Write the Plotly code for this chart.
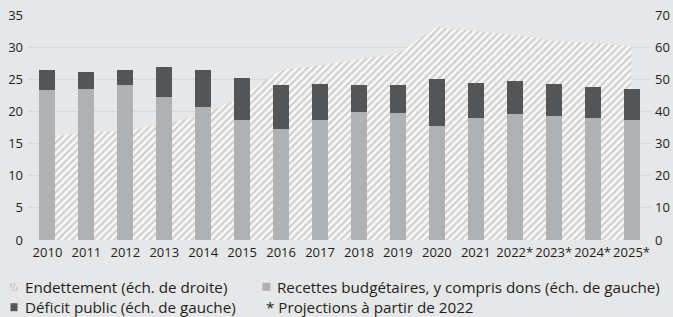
import plotly.graph_objects as go

years = ["2010", "2011", "2012", "2013", "2014", "2015", "2016", "2017",
         "2018", "2019", "2020", "2021", "2022", "2023", "2024", "2025"]
tick_labels = ["2010", "2011", "2012", "2013", "2014", "2015", "2016", "2017",
               "2018", "2019", "2020", "2021", "2022*", "2023*", "2024*", "2025*"]
recettes = [23.3, 23.5, 24.1, 22.2, 20.7, 18.7, 17.3, 18.7,
            19.9, 19.8, 17.7, 19.0, 19.6, 19.3, 19.0, 18.7]
deficit = [3.1, 2.6, 2.3, 4.7, 5.7, 6.5, 6.8, 5.6,
           4.2, 4.3, 7.3, 5.4, 5.1, 5.0, 4.8, 4.8]
endettement = [32.0, 33.6, 34.0, 36.0, 38.9, 44.6, 52.9, 54.4,
               56.2, 58.0, 66.2, 65.1, 63.8, 62.0, 61.4, 60.3]

FONT = "Open Sans"
TXT = "#231f20"
BG = "#e6e7e8"
TICK = 13
LEG = 15.2

fig = go.Figure()

fig.add_trace(go.Scatter(
    x=years, y=endettement, yaxis="y", mode="lines",
    line=dict(width=0, color="#c8c8c8"), fill="tozeroy",
    fillcolor="#f5f5f5",
    fillpattern=dict(shape="/", fgcolor="#a6a6a6", bgcolor="#f7f7f7",
                     size=5, solidity=0.42),
    name="Endettement (éch. de droite)", showlegend=False, hoverinfo="skip"))

fig.add_trace(go.Bar(
    x=years, y=recettes, yaxis="y2", marker=dict(color="#b0b1b3", line_width=0),
    width=0.41, name="Recettes budgétaires, y compris dons (éch. de gauche)",
    showlegend=False))
fig.add_trace(go.Bar(
    x=years, y=deficit, yaxis="y2", marker=dict(color="#545557", line_width=0),
    width=0.41, name="Déficit public (éch. de gauche)", showlegend=False))

# plot-area geometry in pixels (for legend placement)
L, R, T, B = 28, 22, 15, 77
W, H = 673 - L - R, 317 - T - B


def px(x):
    return (x - L) / W


def py(y):
    return (317 - B - y) / H


ROW1, ROW2 = 286.8, 307.2

shapes = []
annotations = []

# legend icons
shapes.append(dict(type="rect", xref="paper", yref="paper",
                   x0=px(10), x1=px(17.5), y0=py(ROW1 + 4), y1=py(ROW1 - 3.5),
                   fillcolor="#c9c9c9", line_width=0))
for a in (0, 3.5):
    shapes.append(dict(type="line", xref="paper", yref="paper",
                       x0=px(10.5 + a), y0=py(ROW1 + 3.5),
                       x1=px(13.5 + a), y1=py(ROW1 - 3),
                       line=dict(color="#f5f5f5", width=1.3)))
shapes.append(dict(type="rect", xref="paper", yref="paper",
                   x0=px(262.5), x1=px(270.5), y0=py(ROW1 + 4), y1=py(ROW1 - 4),
                   fillcolor="#b0b1b3", line_width=0))
shapes.append(dict(type="rect", xref="paper", yref="paper",
                   x0=px(10.5), x1=px(17.5), y0=py(ROW2 + 4), y1=py(ROW2 - 4),
                   fillcolor="#545557", line_width=0))

legend_texts = [
    ("Endettement (éch. de droite)", 22.5, ROW1),
    ("Recettes budgétaires, y compris dons (éch. de gauche)", 274.5, ROW1),
    ("Déficit public (éch. de gauche)", 22.5, ROW2),
    ("* Projections à partir de 2022", 263.5, ROW2),
]
for t, x, y in legend_texts:
    annotations.append(dict(text=t, xref="paper", yref="paper", x=px(x), y=py(y),
                            xanchor="left", yanchor="middle", showarrow=False,
                            font=dict(family=FONT, size=LEG, color=TXT)))

fig.update_layout(
    width=673, height=317,
    margin=dict(l=L, r=R, t=T, b=B, pad=0, autoexpand=False),
    paper_bgcolor=BG, plot_bgcolor=BG,
    barmode="stack", bargap=0.59,
    showlegend=False,
    font=dict(family=FONT, size=TICK, color=TXT),
    xaxis=dict(type="category", tickvals=years, ticktext=tick_labels,
               range=[-0.5, 15.5], showgrid=False, zeroline=False,
               showline=False, ticks="", tickangle=0, automargin=False,
               ticklabelstandoff=3, tickfont=dict(size=TICK)),
    yaxis=dict(side="right", range=[0, 70], dtick=10, showgrid=True,
               gridcolor="#d8d9da", gridwidth=1, zeroline=False,
               showline=False, ticks="", automargin=False,
               ticklabelstandoff=3, tickfont=dict(size=TICK)),
    yaxis2=dict(side="left", overlaying="y", range=[0, 35], dtick=5,
                showgrid=False, zeroline=False, showline=False, ticks="",
                automargin=False, ticklabelstandoff=4,
                tickfont=dict(size=TICK)),
    shapes=shapes, annotations=annotations,
)

fig.write_html("out.html",
               config={"displayModeBar": False},
               post_script="document.body.style.margin='0';"
                           "document.body.style.background='#e6e7e8';")
